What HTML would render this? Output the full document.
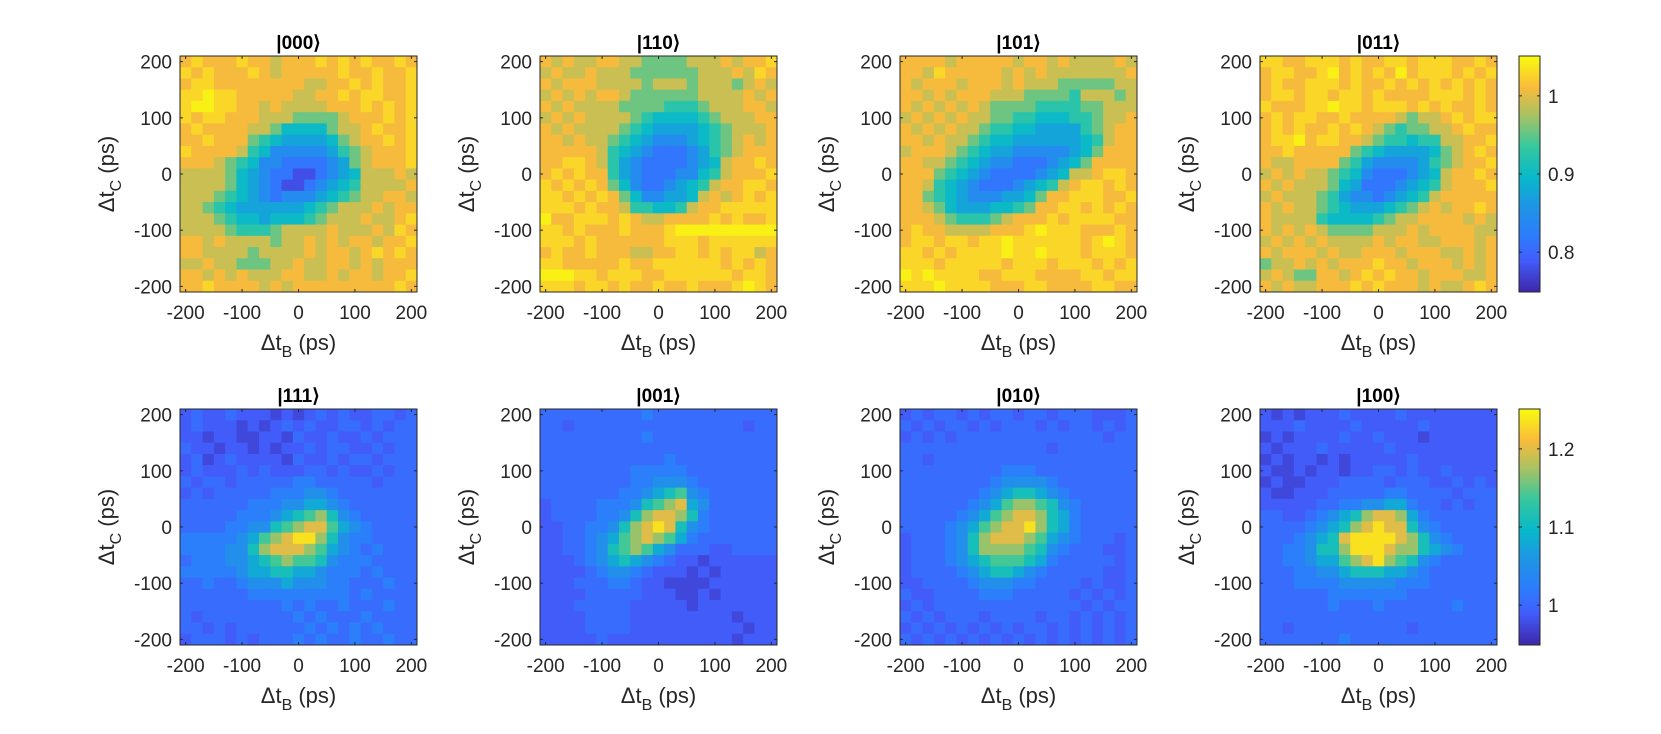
<!DOCTYPE html>
<html><head><meta charset="utf-8"><style>
html,body{margin:0;padding:0;background:#fff;}
svg{display:block;font-family:"Liberation Sans",sans-serif;}
</style></head><body>
<svg id="fig" width="1661" height="734" viewBox="0 0 1661 734" xmlns="http://www.w3.org/2000/svg"></svg>
<script>
// ---- data ----
const titles = ["|000\u27E9","|110\u27E9","|101\u27E9","|011\u27E9","|111\u27E9","|001\u27E9","|010\u27E9","|100\u27E9"];
const axisTicks = [-200,-100,0,100,200];
const cellCenters = [-200,-180,-160,-140,-120,-100,-80,-60,-40,-20,0,20,40,60,80,100,120,140,160,180,200];
const topLevels = [0.78,0.815,0.845,0.875,0.90,0.925,0.955,0.99,1.01,1.028,1.045];
const botLevels = [0.975,0.99,1.005,1.025,1.05,1.08,1.11,1.14,1.17,1.20,1.235];
const topRange = [0.749,1.051];
const botRange = [0.949,1.251];
const topCbTicks = [0.8,0.9,1];
const topCbLabels = ["0.8","0.9","1"];
const botCbTicks = [1,1.1,1.2];
const botCbLabels = ["1","1.1","1.2"];
// grids: rows from +200 (top) to -200 (bottom); characters index into level arrays
const g000 = ["898889887888989898898","989888987888889889889","899888888887788989889","99a998888877889899889","9aa998878777788898989","989988877766667888989","898888776444467789889","889888654333346788989","988887542222235678889","888765422111123678889","777764321100123477787","777764321001234577778","777654321222345677887","776543333334567778788","777654434445677787789","777765556777787778798","887877776778787887889","887777677778788789898","778776667787788787888","887878777887787887889","889888878788888888898"];
const g110 = ["878778877666677787889","787787776666667778798","878887777677767776787","787878876666667777878","878777766665556777887","787877776544445677788","878777765433334567778","887877654322234567878","888887543211123567888","889987532111123478898","898988532111224578889","989898642112345788998","998989864223347878989","999898875544578899999","a88999898778888989889","998988898889aaaaaaaaa","999898888889998999999","898898887788998989978","998888898899999989898","aaa998999889999998998","999899898898898889a98"];
const g101 = ["888878888878878777787","887988888787877777778","878887888787776666677","887878887776666577767","878787876666555566777","787878776655444556778","878787765544333356788","887877654433333345788","788876543322222346888","887765432211123468888","888654321111234778998","887543211123457899898","886543222334688999889","887643334456889989898","888765556788898999988","898877778889a99988898","899899899a99999989a98","998989999a99a99989998","999899999899989998989","a9a999988999888899899","999a99998889988889988"];
const g011 = ["998899989889989998898","899889a89898a89998989","898899989889898989898","899899899898888999898","988899a99899989898898","898998898888767789899","898988989876566778988","899a89988765545577889","889888886543333467898","877888865322223567889","787877654211123478898","878777643111234578889","787776532212345788888","878776543334567878898","877775444456778888787","878787666677787888877","787878777787887788878","878887877888788877878","677878788898878887878","787668878989887888778","878778889898887877898"];
const g111 = ["121121110101212112212","121110101212112212122","110110011021121121222","211011010112122112122","120121111021121221222","121112121112212112122","212212222233222221222","121222223334432222222","222222333445543222222","222223334567864322222","222233446789975432222","3333345789aa864332222","333344689998754323222","233344567877643332222","333334556655433323222","223223444544433222322","222222333333333232222","222222222323223222322","212222222232322232222","221212222223232323222","122212122232322322322"];
const g001 = ["222222222322222222222","221222222222222222122","222222222322222222222","222222222222222222222","222222222223222222222","222222223333322222222","222222223344432222222","222222233456743222222","122223334678954222222","122223346899863222222","1122334689a9643222222","112234578987532222222","112234678754222112222","111234565432110111111","111123443211101011111","111222332110000111111","111122222111001011111","111222221111101111111","111122221111111110111","111122221111111111011","111112111111111110111"];
const g010 = ["121221212212212221112","212122121222121221212","121212222222222222122","222222222222212222222","221222222222222222222","222222222333222222222","222222223444432222222","222222234566543222222","222222345788764322222","222223457899865322222","22223457899a865322222","122234689998754322212","122234688887643222112","122234567776532222212","122223456654322222112","112222344433222212112","211222233322222121212","121222222222222212122","212122212222122121212","121212121212212121212","212121212121212121212"];
const g100 = ["101011121111211111111","111211112111112111111","010111121121110111111","101112111112111111111","010110101111121111111","100101101122121121111","010011122221222112121","100111222223322221222","111112233445532212122","221123456899853222222","2222345689a9964322222","22234569aaaa986432222","22334668aaa9886543222","223345578 9a876432222".replace(' ',''),"222334456665543222222","222333344444333222222","222222333333322222222","222222322232222223222","222222222222222222222","221222222222212222222","222222232222222222222"];
const grids = [g000,g110,g101,g011,g111,g001,g010,g100];

// ---- layout ----
const NS="http://www.w3.org/2000/svg";
const svg=document.getElementById('fig');
const lefts=[180,540,900,1260], W=237;
const rowsY=[[56,292],[409,645]];
const parula=[[0,62,38,168],[0.14,66,94,253],[0.24,44,125,252],[0.37,30,150,229],[0.49,7,185,201],[0.62,55,200,157],[0.75,168,194,99],[0.87,250,187,59],[1,249,251,14]];
function cmap(f){f=Math.max(0,Math.min(1,f));for(let i=1;i<parula.length;i++){if(f<=parula[i][0]){const a=parula[i-1],b=parula[i];const t=(f-a[0])/(b[0]-a[0]);return `rgb(${Math.round(a[1]+t*(b[1]-a[1]))},${Math.round(a[2]+t*(b[2]-a[2]))},${Math.round(a[3]+t*(b[3]-a[3]))})`;}}return 'rgb(249,251,14)';}
function mk(tag,attrs,parent){const e=document.createElementNS(NS,tag);for(const k in attrs)e.setAttribute(k,attrs[k]);(parent||svg).appendChild(e);return e;}
function txt(str,attrs,parent){const e=mk('text',attrs,parent);e.textContent=str;return e;}

grids.forEach((grid,p)=>{
  const row=p<4?0:1;
  const L=lefts[p%4], T=rowsY[row][0], B=rowsY[row][1], H=B-T;
  const levels=row===0?topLevels:botLevels, range=row===0?topRange:botRange;
  const xs=v=>L+(v+210)/420*W;
  const ys=v=>T+(210-v)/420*H;
  const g=mk('g',{});
  
  
  grid.forEach((line,ri)=>{
    cellCenters.forEach((cx,ci)=>{
      const ch=line[ci]!==undefined?line[ci]:line[line.length-1];
      const val=levels[parseInt(ch,16)];
      const cy=cellCenters[cellCenters.length-1-ri];
      const x0=xs(cx-10),x1=xs(cx+10),y0=ys(cy+10),y1=ys(cy-10);
      const r=mk('rect',{x:x0.toFixed(2),y:y0.toFixed(2),width:(x1-x0+0.4).toFixed(2),height:(y1-y0+0.4).toFixed(2),fill:cmap((val-range[0])/(range[1]-range[0]))},g);
      
      
    });
  });
  const fr=mk('rect',{x:L,y:T,width:W,height:H,fill:'none',stroke:'#262626','stroke-width':1},g);
  
  
  axisTicks.forEach(t=>{
    const x=xs(t), y=ys(t);
    mk('line',{x1:x,y1:B,x2:x,y2:B-3,stroke:'#262626'},g);
    mk('line',{x1:x,y1:T,x2:x,y2:T+3,stroke:'#262626'},g);
    mk('line',{x1:L,y1:y,x2:L+3,y2:y,stroke:'#262626'},g);
    mk('line',{x1:L+W,y1:y,x2:L+W-3,y2:y,stroke:'#262626'},g);
    const xl=txt(String(t),{x:x,y:B+27,'text-anchor':'middle','font-size':19,fill:'#262626'},g);
    
    
    const yl=txt(String(t),{x:L-8,y:y+7,'text-anchor':'end','font-size':19,fill:'#262626'},g);
    
    
  });
  const ti=txt(titles[p],{x:L+W/2,y:T-7,'text-anchor':'middle','font-size':19,'font-weight':'bold',fill:'#000'},g);
  
  
  const xt=txt('',{x:L+W/2,y:B+58,'text-anchor':'middle','font-size':22,fill:'#262626'},g);
  xt.innerHTML='\u0394t<tspan dy="7" font-size="16">B</tspan><tspan dy="-7"> (ps)</tspan>';
  
  
  const cyy=(T+B)/2;
  const yt=txt('',{x:L-66,y:cyy,'text-anchor':'middle','font-size':22,fill:'#262626',transform:`rotate(-90 ${L-66} ${cyy})`},g);
  yt.innerHTML='\u0394t<tspan dy="7" font-size="16">C</tspan><tspan dy="-7"> (ps)</tspan>';
  
  
});

// colorbars
[[topRange,topCbTicks,topCbLabels,0],[botRange,botCbTicks,botCbLabels,1]].forEach(([range,ticks,labels,row])=>{
  const T=rowsY[row][0],B=rowsY[row][1],X=1519,CW=21;
  const cy=v=>B-(v-range[0])/(range[1]-range[0])*(B-T);
  const g=mk('g',{});
  
  
  const N=120;
  for(let i=0;i<N;i++){
    const y0=B-(i+1)*(B-T)/N;
    mk('rect',{x:X,y:y0.toFixed(2),width:CW,height:((B-T)/N+0.5).toFixed(2),fill:cmap((i+0.5)/N)},g);
  }
  mk('rect',{x:X,y:T,width:CW,height:B-T,fill:'none',stroke:'#262626'},g);
  ticks.forEach((t,i)=>{
    const y=cy(t);
    mk('line',{x1:X+CW,y1:y,x2:X+CW-3,y2:y,stroke:'#262626'},g);
    mk('line',{x1:X,y1:y,x2:X+3,y2:y,stroke:'#262626'},g);
    const l=txt(labels[i],{x:X+CW+8,y:y+7,'font-size':19,fill:'#262626'},g);
    
    
  });
});
</script>
</body></html>
